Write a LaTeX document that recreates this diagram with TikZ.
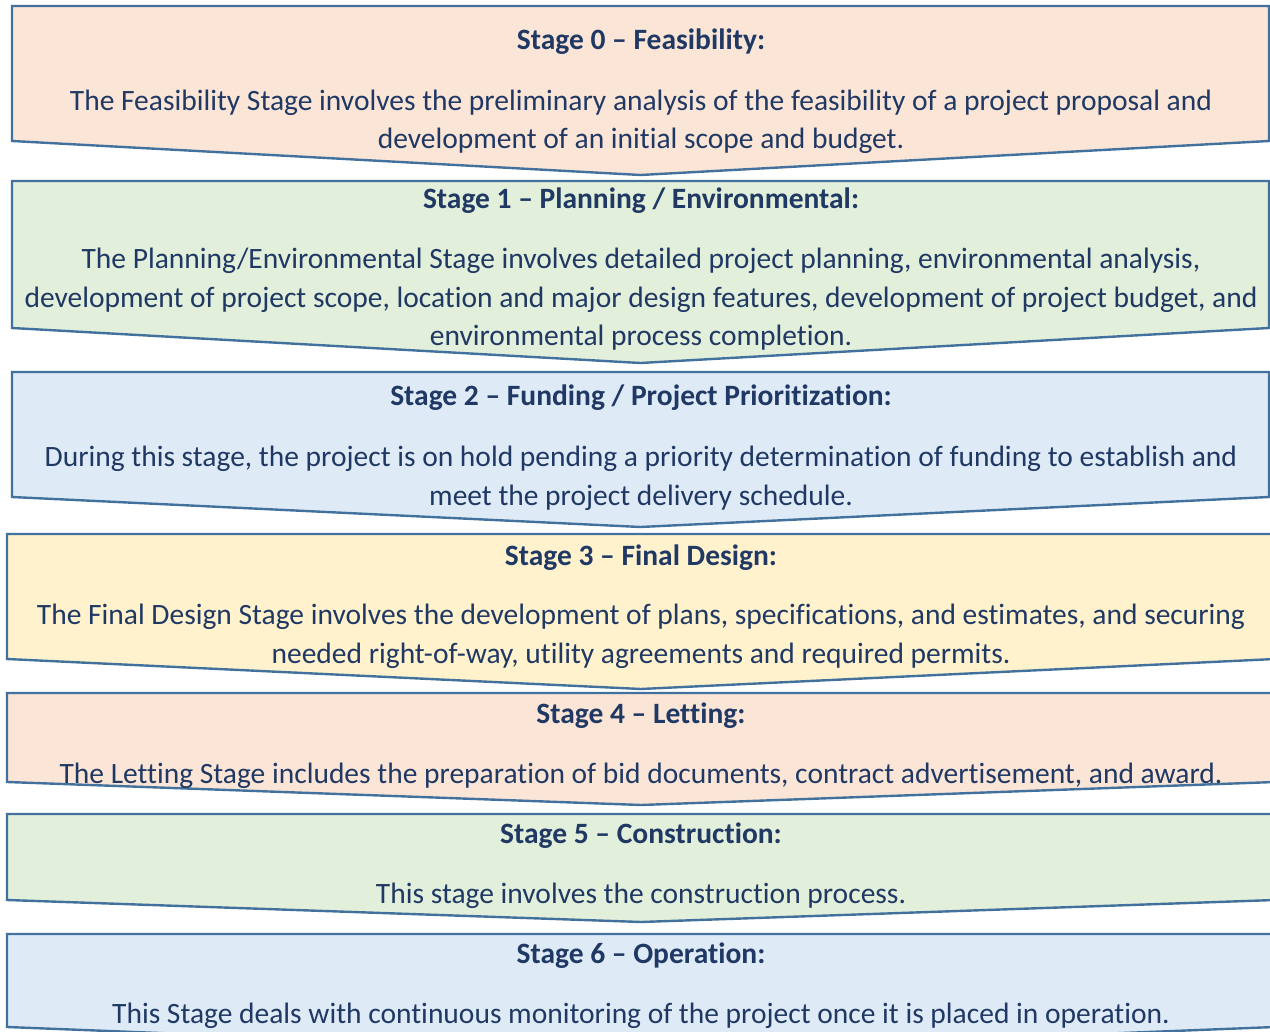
\documentclass[tikz,border=0pt]{standalone}
\usepackage{fontspec}
\setmainfont{Carlito}[Ligatures=NoCommon]
\definecolor{stageline}{HTML}{41719C}
\definecolor{stagetext}{HTML}{1F3864}
\definecolor{peach}{HTML}{FBE5D6}
\definecolor{mint}{HTML}{E2EFDA}
\definecolor{sky}{HTML}{DEEBF7}
\definecolor{cream}{HTML}{FFF2CC}
\tikzset{
	stagebox/.style = {draw=stageline, line width=1.2pt, line join=miter},
	stagehead/.style = {anchor=base, inner sep=0pt, text=stagetext,
		font=\fontsize{14.75pt}{19.3pt}\selectfont\bfseries},% titre de l'etape
	stagebody/.style = {anchor=base, inner sep=0pt, align=center,
		text=stagetext, font=\fontsize{14.75pt}{19.3pt}\selectfont}% texte, base = derniere ligne
}
\begin{document}
\begin{tikzpicture}[x=0.5pt,y=-0.5pt]
	\clip (0,0) rectangle (1270,1032);
	% fleches des etapes
	\draw[stagebox, fill=peach] (12,6) -- (1269,6) -- (1269,141) -- (640.5,175) -- (12,141) -- cycle;
	\draw[stagebox, fill=mint] (12,181) -- (1269,181) -- (1269,328) -- (640.5,363) -- (12,328) -- cycle;
	\draw[stagebox, fill=sky] (12,372) -- (1269,372) -- (1269,497) -- (640.5,527) -- (12,497) -- cycle;
	\draw[stagebox, fill=cream] (7,534) -- (1275,534) -- (1275,659) -- (641,689) -- (7,659) -- cycle;
	\draw[stagebox, fill=peach] (7,693) -- (1275,693) -- (1275,782) -- (641,805) -- (7,782) -- cycle;
	\draw[stagebox, fill=mint] (7,814) -- (1275,814) -- (1275,900) -- (641,922) -- (7,900) -- cycle;
	\draw[stagebox, fill=sky] (7,934) -- (1275,934) -- (1275,1027) -- (641,1052) -- (7,1027) -- cycle;
	% textes
	\node[stagehead] (head0) at (641,50) {Stage 0 – Feasibility:};
	\node[stagebody] (body0) at (641,149) {The Feasibility Stage involves the preliminary analysis of the feasibility of a project proposal and\\
		development of an initial scope and budget.};
	\node[stagehead] (head1) at (641,209) {Stage 1 – Planning / Environmental:};
	\node[stagebody] (body1) at (641,346) {The Planning/Environmental Stage involves detailed project planning, environmental analysis,\\
		development of project scope, location and major design features, development of project budget, and\\
		environmental process completion.};
	\node[stagehead] (head2) at (641,406) {Stage 2 – Funding / Project Prioritization:};
	\node[stagebody] (body2) at (641,505) {During this stage, the project is on hold pending a priority determination of funding to establish and\\
		meet the project delivery schedule.};
	\node[stagehead] (head3) at (641,565) {Stage 3 – Final Design:};
	\node[stagebody] (body3) at (641,663) {The Final Design Stage involves the development of plans, specifications, and estimates, and securing\\
		needed right-of-way, utility agreements and required permits.};
	\node[stagehead] (head4) at (641,723) {Stage 4 – Letting:};
	\node[stagebody] (body4) at (641,783) {The Letting Stage includes the preparation of bid documents, contract advertisement, and award.};
	\node[stagehead] (head5) at (641,843) {Stage 5 – Construction:};
	\node[stagebody] (body5) at (641,903) {This stage involves the construction process.};
	\node[stagehead] (head6) at (641,963) {Stage 6 – Operation:};
	\node[stagebody] (body6) at (641,1023) {This Stage deals with continuous monitoring of the project once it is placed in operation.};
\end{tikzpicture}
\end{document}
